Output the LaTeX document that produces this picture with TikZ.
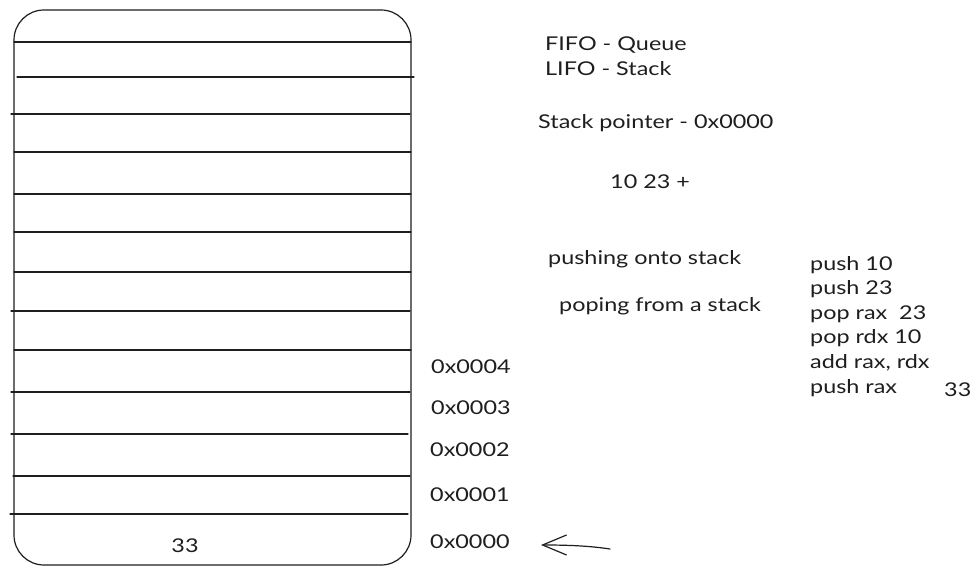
\documentclass[tikz,border=0pt]{standalone}
\usepackage{fontspec}
\setmainfont{Lato}[FakeStretch=1.23]
\usetikzlibrary{arrows.meta}
\definecolor{ink}{HTML}{1E1E1E}
\tikzset{
  sk/.style={draw=ink, line width=1.2pt, line cap=round},
  lbl/.style={anchor=west, inner sep=0pt, text=ink, font=\fontsize{19}{22}\selectfont},
}
\begin{document}
\begin{tikzpicture}[x=1pt,y=-1pt]
\useasboundingbox[fill=white] (0,0) rectangle (978,572);
% stack box
\draw[sk, rounded corners=30pt] (14,10) rectangle (411,565);
\foreach \y/\a/\b in {42/14/411, 77/17/414, 114/11/410, 152/14/411, 194/14/411, 232/14/411, 272/14/411, 311/11/410, 350/14/411, 392/11/410, 434/11/408, 476/13/410, 514/10/408}
  \draw[sk] (\a,\y) -- (\b,\y);
\node[lbl, anchor=center] (v33) at (185,546) {33};
% addresses
\node[lbl] (a4) at (431,367) {0x0004};
\node[lbl] (a3) at (431,408) {0x0003};
\node[lbl] (a2) at (430,450) {0x0002};
\node[lbl] (a1) at (430,495) {0x0001};
\node[lbl] (a0) at (430,542) {0x0000};
% pointer arrow
\coordinate (ptail) at (610,549);
\coordinate (ptip) at (541,545);
\draw[sk, -{Straight Barb[length=24pt,width=20pt,line width=1.2pt]}] (ptail) .. controls (590,546) and (570,545) .. (ptip);
% notes
\node[lbl] (fifo) at (545,45) {FIFO - Queue};
\node[lbl] (lifo) at (545,69) {LIFO - Stack};
\node[lbl] (sp) at (538,123) {Stack pointer - 0x0000};
\node[lbl] (rpn) at (610,182) {10 23 +};
\node[lbl] (push) at (548,259) {pushing onto stack};
\node[lbl] (pop) at (559,306) {poping from a stack};
% code
\node[lbl] (c1) at (810,265) {push 10};
\node[lbl] (c2) at (810,289) {push 23};
\node[lbl] (c3) at (810,314) {pop rax\ \ 23};
\node[lbl] (c4) at (810,338) {pop rdx 10};
\node[lbl] (c5) at (810,363) {add rax, rdx};
\node[lbl] (c6) at (810,388) {push rax};
\node[lbl] (r33) at (944,390) {33};
\end{tikzpicture}
\end{document}
